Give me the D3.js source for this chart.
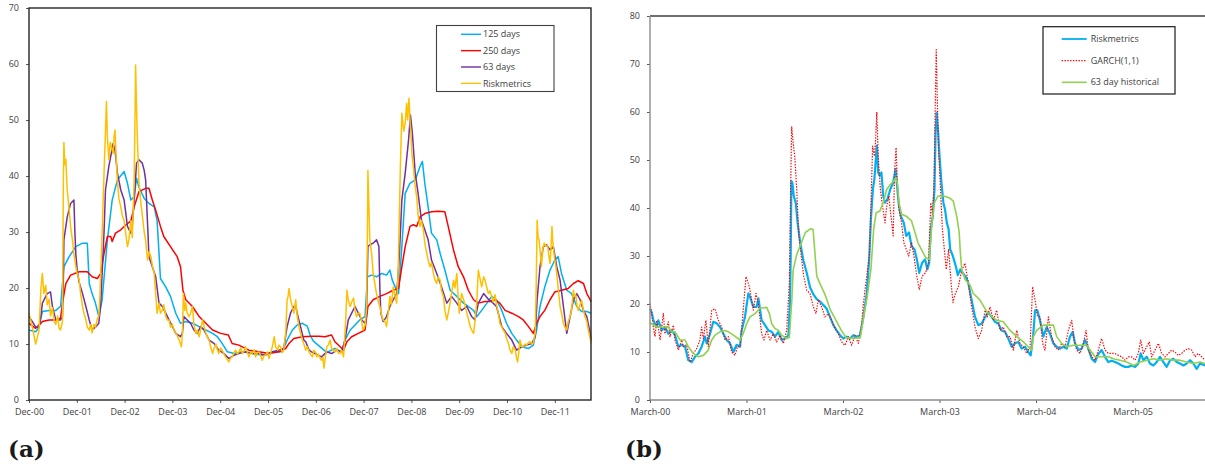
<!DOCTYPE html>
<html>
<head>
<meta charset="utf-8">
<script src="https://cdnjs.cloudflare.com/ajax/libs/d3/7.8.5/d3.min.js"></script>
<style>
body{margin:0;background:#fff;}
svg text{font-family:"Open Sans","Liberation Sans",sans-serif;}
</style>
</head>
<body>
<svg id="fig" width="1205" height="471"></svg>
<script>

// Tick labels and legend names

var decLabels = ["Dec-00","Dec-01","Dec-02","Dec-03","Dec-04","Dec-05","Dec-06","Dec-07","Dec-08","Dec-09","Dec-10","Dec-11"];
var marchLabels = ["March-00","March-01","March-02","March-03","March-04","March-05"];
var yTicksA = [0,10,20,30,40,50,60,70];
var yTicksB = [0,10,20,30,40,50,60,70,80];
var namesA = ["125 days","250 days","63 days","Riskmetrics"];
var namesB = ["Riskmetrics","GARCH(1,1)","63 day historical"];

// Panel (a): [years after Dec-00, volatility]

var vol125 = [[0,12.5],[0.14,12.2],[0.21,13],[0.28,15.8],[0.42,16],[0.56,16],[0.66,16.7],[0.73,23.8],[0.84,25.6],[0.98,27.4],[1.12,28],[1.22,28],[1.26,20.8],[1.32,19],[1.39,17.3],[1.46,14.9],[1.53,17.9],[1.64,28.6],[1.74,35.7],[1.85,39.3],[1.99,40.8],[2.06,38.7],[2.13,35.7],[2.20,36.3],[2.25,39.6],[2.30,38],[2.41,36],[2.51,35.1],[2.62,34.5],[2.68,32],[2.72,26.2],[2.75,21.7],[2.86,20.2],[2.96,18.5],[3.07,15.5],[3.17,13.7],[3.28,14],[3.42,13.7],[3.56,13.1],[3.70,12.5],[3.84,11.9],[3.94,11.3],[4.04,10.1],[4.15,8.6],[4.29,8.3],[4.46,8.6],[4.67,8.3],[4.88,8],[5.09,8.6],[5.30,8.6],[5.40,10.7],[5.51,12.5],[5.61,13.4],[5.72,13.7],[5.82,13.2],[5.88,11.6],[5.95,10.5],[6.09,9.5],[6.23,8.5],[6.40,9.2],[6.54,8.6],[6.61,10.7],[6.72,12.5],[6.82,13.4],[6.92,14.3],[7.03,14.9],[7.08,22],[7.17,22.3],[7.27,22],[7.38,22.6],[7.48,22.3],[7.55,23.2],[7.60,21.4],[7.66,20.2],[7.73,19],[7.80,27.4],[7.87,36.9],[7.97,38.7],[8.08,39.3],[8.18,41.7],[8.23,42.6],[8.28,38.7],[8.35,34.5],[8.42,29.8],[8.53,28.6],[8.60,26.2],[8.70,23.2],[8.81,19.6],[8.95,18.5],[9.09,17.3],[9.19,16.7],[9.30,16],[9.37,14.9],[9.47,16],[9.58,17.3],[9.68,18.5],[9.78,17.9],[9.89,16],[9.99,13.7],[10.10,11.9],[10.20,10.7],[10.31,9.5],[10.45,9.2],[10.55,9.8],[10.62,12.5],[10.69,16.7],[10.79,20.2],[10.90,23.2],[11.00,25],[11.07,25.6],[11.14,22.6],[11.25,19.6],[11.35,19],[11.46,16.7],[11.56,15.8],[11.67,15.8],[11.757,15.5]];

var vol250 = [[0,13.7],[0.14,12.8],[0.28,14],[0.42,14.3],[0.56,14.3],[0.66,14.6],[0.70,17.3],[0.77,20.8],[0.87,22.3],[1.05,22.9],[1.22,22.9],[1.32,22],[1.43,21.7],[1.50,22.6],[1.57,26.2],[1.64,29.2],[1.71,29.2],[1.74,28.3],[1.81,29.8],[1.92,30.4],[2.02,31.2],[2.13,32],[2.20,34.5],[2.30,37.2],[2.44,37.8],[2.51,37.8],[2.58,35.7],[2.65,33.9],[2.75,31],[2.82,29.2],[2.96,27.4],[3.10,25.6],[3.17,23.8],[3.22,19.6],[3.28,17.9],[3.42,16.7],[3.56,14.9],[3.70,13.7],[3.84,12.5],[4.01,11.9],[4.17,11.6],[4.25,10.1],[4.39,9.8],[4.60,8.9],[4.81,8.6],[5.02,8.3],[5.23,8.6],[5.37,9.2],[5.44,10.1],[5.54,11],[5.72,11.3],[5.93,11.4],[6.07,11.4],[6.19,11.3],[6.33,11.6],[6.40,10.4],[6.51,9.5],[6.58,8.9],[6.65,10.4],[6.75,11.3],[6.89,11.9],[7.03,12.5],[7.09,16.7],[7.20,17.9],[7.34,18.5],[7.48,19],[7.62,19.6],[7.73,19.9],[7.80,23.8],[7.87,27.4],[7.97,31],[8.04,31.3],[8.11,31],[8.18,32.7],[8.28,33.3],[8.42,33.6],[8.56,33.7],[8.70,33.6],[8.77,31],[8.88,26.8],[8.98,23.8],[9.09,22],[9.19,19.6],[9.30,17.9],[9.40,17.3],[9.54,17.6],[9.64,17.6],[9.75,17.9],[9.85,17.3],[9.96,16],[10.10,15.5],[10.24,14.9],[10.34,14.3],[10.45,13.1],[10.55,11.9],[10.62,13.7],[10.69,14.9],[10.79,16],[10.90,17.9],[11.00,19.3],[11.14,19.6],[11.28,19.9],[11.39,20.8],[11.49,21.3],[11.60,20.8],[11.67,19],[11.74,17.9],[11.757,17.5]];

var vol63 = [[0,14.9],[0.07,14],[0.14,13],[0.21,13],[0.25,15],[0.28,17.3],[0.35,18.5],[0.38,19],[0.45,19.3],[0.49,16.7],[0.56,14.3],[0.66,14.3],[0.70,14.9],[0.72,22],[0.73,28.6],[0.80,32.7],[0.87,35.1],[0.94,35.7],[0.96,30],[0.98,26],[1.01,23],[1.05,21],[1.12,19],[1.19,16.7],[1.26,14.3],[1.32,12.5],[1.39,13],[1.46,13.7],[1.50,17],[1.53,22.6],[1.57,30],[1.60,37.5],[1.67,41.7],[1.71,43.5],[1.76,45.8],[1.80,44.6],[1.85,40.5],[1.92,37.5],[1.99,35.7],[2.06,31],[2.13,29.8],[2.16,31],[2.20,35.7],[2.25,42.3],[2.30,42.9],[2.37,42.3],[2.41,41],[2.44,39.3],[2.48,31.5],[2.51,25.6],[2.58,23.8],[2.65,22],[2.72,17.3],[2.79,16.7],[2.86,15.5],[2.93,14.3],[3.00,13.1],[3.07,11.9],[3.17,11.3],[3.21,12],[3.24,14.9],[3.31,14.3],[3.38,13.7],[3.45,12.5],[3.52,11.9],[3.59,13.1],[3.66,12.5],[3.77,10.7],[3.87,10.1],[3.97,8.9],[4.08,8.3],[4.18,7.4],[4.29,8],[4.39,8.3],[4.53,8.6],[4.67,8.3],[4.81,8.3],[4.95,8],[5.09,8.6],[5.23,8.9],[5.33,9.2],[5.40,13.1],[5.47,15.5],[5.54,16.7],[5.58,16.8],[5.61,15.5],[5.68,13.1],[5.75,10.7],[5.79,10.4],[5.86,8.9],[5.91,8.6],[5.98,8.3],[6.12,7.7],[6.23,8.6],[6.33,8.3],[6.44,8.9],[6.54,8.6],[6.61,10.7],[6.68,14.3],[6.75,15.5],[6.82,16.7],[6.89,15.5],[6.96,14.3],[7.03,13.7],[7.06,15],[7.09,27.4],[7.13,27.7],[7.20,28],[7.27,28.6],[7.32,27.4],[7.34,20],[7.36,15.5],[7.41,14],[7.48,14.9],[7.55,16.7],[7.62,17.9],[7.69,19],[7.72,22],[7.75,26.2],[7.80,35.7],[7.87,40.5],[7.94,46.4],[7.98,50.9],[8.02,47.6],[8.08,40.5],[8.14,36.9],[8.21,32.1],[8.28,30.4],[8.35,28.6],[8.42,25],[8.53,22.6],[8.63,20.2],[8.74,17.3],[8.84,18.5],[8.95,17.3],[9.05,16],[9.16,16.7],[9.26,14.9],[9.33,14.3],[9.40,17.3],[9.51,19],[9.61,18],[9.71,17.3],[9.78,16.7],[9.89,13.1],[9.99,11.9],[10.10,10.7],[10.20,8.9],[10.31,9.5],[10.41,9.8],[10.52,10.1],[10.59,11.3],[10.63,17.9],[10.69,23.8],[10.76,27.4],[10.83,27.7],[10.90,26.8],[10.97,27.4],[11.04,23.8],[11.11,21.4],[11.18,16.7],[11.25,11.9],[11.32,14.9],[11.39,17.9],[11.46,19],[11.53,17.9],[11.60,16],[11.67,14.9],[11.74,11.9],[11.757,10.7]];

var riskA = [[0,15.5],[0.07,13],[0.14,10],[0.17,11],[0.21,12.5],[0.25,20],[0.28,22.6],[0.31,19],[0.35,20.5],[0.38,17],[0.42,18],[0.45,15],[0.49,16.5],[0.53,14],[0.56,13.5],[0.6,15],[0.63,12.8],[0.66,12.5],[0.70,14],[0.72,40],[0.73,46],[0.75,42],[0.77,43],[0.80,37.5],[0.84,34],[0.87,31],[0.91,28.5],[0.94,26],[0.98,23.8],[1.01,22.5],[1.05,21.4],[1.08,19],[1.12,16.7],[1.15,15.5],[1.19,14.3],[1.22,13],[1.26,12.5],[1.29,13.5],[1.32,12],[1.36,13.5],[1.39,13],[1.43,14.5],[1.46,15],[1.48,18],[1.50,22.6],[1.53,30],[1.57,40.5],[1.60,48],[1.62,53.3],[1.64,47],[1.67,42.9],[1.70,46],[1.73,45],[1.76,44],[1.78,47],[1.80,48.2],[1.82,44],[1.85,39],[1.88,36],[1.92,34.5],[1.95,33],[1.99,32],[2.02,30],[2.06,27.4],[2.09,28.6],[2.13,32],[2.16,29],[2.20,39],[2.22,52],[2.23,59.8],[2.25,52],[2.27,46],[2.30,39],[2.33,36],[2.37,33],[2.41,30],[2.44,28.5],[2.48,25],[2.51,26.5],[2.55,25.6],[2.58,24],[2.62,22.6],[2.65,19],[2.68,15.5],[2.72,17.3],[2.75,15.5],[2.79,16],[2.82,17],[2.86,15],[2.89,14.3],[2.93,14.3],[2.96,13],[3.00,13.5],[3.03,12.5],[3.07,12],[3.10,11.5],[3.14,10.7],[3.17,10],[3.19,9.5],[3.21,12],[3.23,19],[3.26,16],[3.28,17.3],[3.31,15.5],[3.35,14.9],[3.38,15.5],[3.42,16.7],[3.45,13.5],[3.49,11.9],[3.52,12.5],[3.56,11.3],[3.59,12.5],[3.63,14.3],[3.66,13.2],[3.70,12],[3.73,11.3],[3.77,10.7],[3.80,9.5],[3.84,8.3],[3.87,9.2],[3.91,10],[3.94,9],[3.97,8.3],[4.01,9.3],[4.04,8.9],[4.08,8.2],[4.11,7.7],[4.15,7.2],[4.18,6.8],[4.22,7.5],[4.25,7.7],[4.29,8.5],[4.32,8.9],[4.36,8.2],[4.39,8.6],[4.43,9.3],[4.46,8.3],[4.50,8.8],[4.53,9.5],[4.57,8.5],[4.60,7.7],[4.64,8.6],[4.67,8.3],[4.71,9],[4.74,7.7],[4.78,8.5],[4.81,8.6],[4.85,7.8],[4.88,7.1],[4.92,8],[4.95,8],[4.99,8.6],[5.02,7.4],[5.06,8.5],[5.09,9.5],[5.13,11.3],[5.16,9.5],[5.20,8.9],[5.23,9.8],[5.26,9.5],[5.30,8.5],[5.33,8.9],[5.37,12],[5.40,17.9],[5.42,18.5],[5.44,19.9],[5.47,18],[5.51,16.7],[5.54,15.5],[5.58,17.9],[5.61,15],[5.65,13],[5.68,12],[5.72,10.7],[5.75,10],[5.79,8.9],[5.82,9.5],[5.86,8.6],[5.89,8.2],[5.93,7.7],[5.96,8.9],[6.00,8.5],[6.02,7.7],[6.05,8.2],[6.09,7.5],[6.12,7.1],[6.15,7.6],[6.17,5.7],[6.19,7],[6.23,9.5],[6.26,9.8],[6.30,10.7],[6.33,9.2],[6.37,8.9],[6.40,8.6],[6.44,9.2],[6.47,8.4],[6.51,8.3],[6.54,8.9],[6.58,7.7],[6.61,11.9],[6.63,15],[6.65,19.6],[6.68,17.8],[6.72,16.7],[6.75,17.5],[6.79,18.2],[6.82,16],[6.85,14.9],[6.89,15.5],[6.92,15.5],[6.96,14],[6.99,12.5],[7.03,13.3],[7.06,16],[7.08,30],[7.09,41],[7.11,35],[7.13,28.6],[7.17,26],[7.20,22.6],[7.24,20.5],[7.27,19],[7.31,17.5],[7.34,16.7],[7.38,15],[7.41,14.3],[7.45,14],[7.48,13.1],[7.52,16],[7.55,18.5],[7.58,17],[7.62,20.2],[7.66,18.5],[7.69,17.3],[7.72,22],[7.74,29.8],[7.77,42],[7.80,51.2],[7.84,48],[7.87,49.4],[7.90,53],[7.92,50],[7.95,53.9],[7.97,50],[7.99,47.6],[8.01,44],[8.04,41.7],[8.08,38],[8.11,36.3],[8.14,33],[8.18,31],[8.21,32],[8.25,30.4],[8.28,28],[8.32,26.2],[8.35,25],[8.39,23.8],[8.42,24.5],[8.46,22.6],[8.49,21.5],[8.53,20.8],[8.56,22],[8.60,21.4],[8.63,19.5],[8.67,18.5],[8.70,16],[8.74,14.3],[8.77,15.5],[8.81,17.3],[8.84,19],[8.88,21.4],[8.91,20],[8.95,22.6],[8.98,18],[9.00,15.5],[9.05,19],[9.09,18],[9.11,17.3],[9.16,15.5],[9.19,14.5],[9.23,13.1],[9.26,12.5],[9.30,11.9],[9.33,14],[9.37,17.9],[9.40,23.2],[9.44,21.5],[9.47,20.2],[9.51,22],[9.54,21.4],[9.58,20],[9.61,19],[9.64,19.5],[9.68,18.5],[9.71,17.5],[9.75,18.8],[9.78,17],[9.82,15.5],[9.85,13.7],[9.89,13],[9.92,12.5],[9.96,12],[9.99,11],[10.03,10.1],[10.06,9],[10.10,8.3],[10.13,9.5],[10.17,9],[10.20,7.5],[10.22,6.8],[10.24,8],[10.27,10.7],[10.31,9.5],[10.34,9.5],[10.38,10],[10.41,9.8],[10.45,10.3],[10.48,10.4],[10.52,10],[10.55,10.2],[10.59,11.9],[10.61,20],[10.63,32.1],[10.65,29],[10.67,28.6],[10.70,26],[10.72,23.8],[10.75,27],[10.78,28],[10.81,27.5],[10.85,27.5],[10.88,25.5],[10.90,24.4],[10.92,27],[10.94,31],[10.96,28],[10.99,25.6],[11.02,24],[11.04,22.6],[11.07,20],[11.11,16.7],[11.14,15.5],[11.18,13.7],[11.21,13],[11.25,12.5],[11.28,14],[11.32,14.9],[11.35,16],[11.39,19.6],[11.41,18.5],[11.44,18.8],[11.46,17],[11.49,16],[11.53,17],[11.56,17.8],[11.60,16],[11.63,14.9],[11.67,14],[11.70,12.5],[11.74,11],[11.757,10.1]];

// Panel (b): [years after March-00, volatility]

var riskB = [[0,19],[0.017,18.3],[0.035,16.6],[0.069,15.2],[0.086,16.6],[0.121,14.5],[0.155,15.2],[0.19,13.8],[0.225,14.5],[0.259,13.5],[0.294,11.1],[0.328,11.5],[0.363,11.1],[0.397,8.3],[0.432,7.9],[0.466,9],[0.501,9.7],[0.535,11.1],[0.57,13.2],[0.587,11.8],[0.622,13.8],[0.656,16.3],[0.691,16],[0.725,15.2],[0.76,13.8],[0.794,12.5],[0.829,11.8],[0.864,10],[0.898,11.5],[0.933,11.1],[0.95,14.5],[0.984,17.3],[1.019,22.2],[1.036,21.5],[1.071,19.4],[1.105,19.4],[1.123,21.2],[1.157,16.6],[1.192,15.6],[1.226,14.5],[1.261,14.2],[1.295,13.2],[1.33,14.2],[1.364,12.5],[1.399,12.8],[1.434,13.5],[1.451,20.8],[1.458,30],[1.465,45.6],[1.475,45.3],[1.49,42.5],[1.51,41.1],[1.53,36.9],[1.556,32.8],[1.59,29],[1.624,26.5],[1.658,23.5],[1.693,22],[1.727,21],[1.762,20.5],[1.796,19.8],[1.831,19],[1.865,17.3],[1.9,15.6],[1.934,14.5],[1.969,13.5],[2.003,12.8],[2.038,13.2],[2.073,12.8],[2.107,13.5],[2.142,13.2],[2.176,13.5],[2.211,17.3],[2.245,22],[2.27,29],[2.29,38],[2.31,44],[2.325,46],[2.35,53],[2.365,47.4],[2.38,46.7],[2.398,47.4],[2.417,42.5],[2.435,41.1],[2.46,41.8],[2.49,43.9],[2.52,45.3],[2.545,48.1],[2.563,43.9],[2.58,40.4],[2.6,38.3],[2.63,36.9],[2.655,34.2],[2.684,34.9],[2.71,32.1],[2.74,31.4],[2.765,29.3],[2.79,26.5],[2.82,28.6],[2.85,29.3],[2.874,27.2],[2.893,28.6],[2.91,35.6],[2.93,38.3],[2.948,43.9],[2.959,55.7],[2.97,59.9],[2.984,56.4],[3.0,50.8],[3.02,45.3],[3.04,41.1],[3.057,39.7],[3.076,36.9],[3.094,35.6],[3.11,31.4],[3.138,30],[3.167,28],[3.19,26],[3.215,27.2],[3.24,26.5],[3.277,25.5],[3.299,24.3],[3.333,20.8],[3.368,17.3],[3.402,15.6],[3.437,15.9],[3.472,17.3],[3.506,18.2],[3.541,17.3],[3.575,16.3],[3.61,15.9],[3.644,14.5],[3.679,14.2],[3.713,12.8],[3.748,11.1],[3.782,11.8],[3.817,12.1],[3.851,10.7],[3.886,11.1],[3.92,10],[3.945,9.3],[3.972,13.8],[3.99,18.7],[4.014,18.7],[4.041,16.6],[4.076,13.2],[4.111,15.2],[4.145,13.8],[4.18,11.8],[4.214,11.1],[4.249,10.7],[4.283,11.1],[4.318,10.7],[4.352,13.2],[4.38,14.2],[4.404,11.8],[4.439,10.4],[4.473,10.7],[4.508,12.5],[4.542,10.7],[4.577,8.6],[4.611,7.9],[4.646,9.6],[4.68,10.4],[4.715,9],[4.75,7.9],[4.784,8.2],[4.819,7.9],[4.853,7.6],[4.888,7.2],[4.922,6.9],[4.957,6.9],[4.991,7.2],[5.026,6.9],[5.06,7.6],[5.085,9.7],[5.112,8.3],[5.147,9],[5.181,7.6],[5.216,7.2],[5.25,7.9],[5.285,9],[5.32,7.9],[5.354,6.9],[5.389,8.3],[5.423,8.6],[5.458,7.9],[5.492,7.6],[5.527,7.2],[5.561,7.6],[5.596,8.3],[5.63,7.6],[5.665,6.5],[5.699,7.6],[5.751,7.2]];

var garchB = [[0,20.1],[0.017,18],[0.035,15.2],[0.052,13.2],[0.069,16.6],[0.086,15.2],[0.104,12.5],[0.138,18],[0.155,13.8],[0.19,16.3],[0.207,13.2],[0.242,15.6],[0.259,12.5],[0.294,10.4],[0.328,12.5],[0.345,11.1],[0.38,11.5],[0.415,7.9],[0.449,9.7],[0.484,10.7],[0.518,12.5],[0.535,15.2],[0.553,12.8],[0.58,16.6],[0.604,11.1],[0.639,18.7],[0.674,19],[0.708,16.6],[0.743,15.2],[0.777,12.5],[0.812,13.2],[0.846,10],[0.881,9.3],[0.905,11.1],[0.933,11.1],[0.96,17.3],[0.995,25.7],[1.019,24.3],[1.036,22.9],[1.071,18.7],[1.098,22.2],[1.123,20.1],[1.157,13.8],[1.181,12.5],[1.209,14.5],[1.244,12.5],[1.278,13.8],[1.313,12.1],[1.347,13.5],[1.382,11.8],[1.416,14.5],[1.444,24.3],[1.458,45],[1.468,57],[1.483,53.6],[1.5,50.8],[1.52,43.9],[1.54,34.9],[1.567,30],[1.593,25.8],[1.624,22.9],[1.658,22.2],[1.693,19.4],[1.72,18],[1.744,20.9],[1.779,19.4],[1.813,17.3],[1.848,18],[1.883,16.6],[1.917,14.9],[1.952,13.8],[1.986,12.1],[2.021,11.4],[2.055,13.2],[2.09,11.4],[2.124,13.5],[2.159,11.8],[2.193,15.6],[2.211,20.1],[2.228,22.9],[2.245,25.7],[2.273,30],[2.29,41],[2.307,52.9],[2.325,50.8],[2.336,53.6],[2.35,60],[2.365,50.8],[2.387,43.9],[2.41,40.4],[2.435,36.9],[2.453,40.4],[2.475,42.5],[2.497,38.3],[2.52,34.2],[2.534,47.4],[2.55,52.6],[2.563,45.3],[2.58,39.7],[2.607,36.9],[2.63,32.8],[2.655,31.4],[2.68,30],[2.71,32.8],[2.735,30],[2.765,25.8],[2.79,23],[2.82,25.8],[2.856,26.5],[2.885,28.6],[2.91,41.1],[2.93,38.3],[2.944,46.7],[2.955,60.6],[2.966,73],[2.977,62.6],[2.99,52.2],[3.01,43.9],[3.03,35.6],[3.05,31.4],[3.07,27.2],[3.094,31.4],[3.12,24.4],[3.14,20.3],[3.161,22],[3.195,23.6],[3.23,27],[3.264,28.5],[3.299,24.3],[3.333,19.4],[3.368,15.2],[3.402,12.8],[3.437,14.5],[3.472,18.7],[3.496,17.3],[3.523,19.4],[3.558,16.6],[3.592,18.7],[3.627,14.5],[3.661,15.2],[3.696,13.2],[3.731,13.2],[3.765,10.4],[3.8,14.5],[3.834,11.8],[3.869,11.1],[3.903,9.7],[3.938,11.1],[3.965,23.6],[3.99,20.8],[4.014,17.5],[4.041,17.3],[4.069,11.8],[4.093,10.4],[4.128,17.3],[4.162,13.2],[4.197,11.1],[4.231,10.4],[4.266,11.8],[4.301,11.1],[4.335,14.5],[4.37,16.6],[4.394,12.5],[4.421,10.4],[4.456,9.7],[4.491,11.8],[4.518,14.5],[4.542,10.4],[4.577,9],[4.611,8.3],[4.646,10.4],[4.68,12.8],[4.715,10.4],[4.75,9.7],[4.784,9.7],[4.819,9.7],[4.853,9.3],[4.888,9],[4.922,8.3],[4.957,9],[4.991,9],[5.026,8.3],[5.06,9.7],[5.085,12.5],[5.112,9.7],[5.147,11.1],[5.174,12.1],[5.199,9],[5.233,10.4],[5.268,11.8],[5.302,9.7],[5.337,9],[5.371,9.7],[5.406,10.4],[5.44,10],[5.475,9.3],[5.509,9.7],[5.544,10.4],[5.579,10.7],[5.613,10.4],[5.648,9],[5.682,9.7],[5.717,9],[5.751,8.3]];

var hist63B = [[0,16.1],[0.069,15.2],[0.138,15.2],[0.19,15.2],[0.225,14.2],[0.259,14.2],[0.311,12.5],[0.363,12.5],[0.397,11.1],[0.449,9.7],[0.501,9],[0.553,9.3],[0.604,10.4],[0.639,12.5],[0.674,13.5],[0.725,14.2],[0.777,14.5],[0.812,14.2],[0.864,13.5],[0.933,12.5],[0.967,13.9],[1.002,15.9],[1.036,17.3],[1.088,18],[1.14,19.1],[1.209,19.3],[1.237,18],[1.261,15.9],[1.295,14.9],[1.33,14.5],[1.364,13.5],[1.416,12.8],[1.444,13],[1.458,17.3],[1.47,21],[1.483,27],[1.52,30.3],[1.556,32.1],[1.61,34.9],[1.666,35.7],[1.69,35.5],[1.706,31.4],[1.728,25.8],[1.758,24.4],[1.813,22],[1.867,18.9],[1.922,16.8],[1.977,14.7],[2.032,13],[2.105,12.8],[2.179,13],[2.215,17.5],[2.252,21.7],[2.289,27.2],[2.318,35.6],[2.343,39],[2.38,39.3],[2.417,41.1],[2.453,43.9],[2.49,44.9],[2.527,45.6],[2.545,46.3],[2.563,45.3],[2.58,41.1],[2.607,38.7],[2.655,38.3],[2.71,37.3],[2.746,34.9],[2.776,32.8],[2.812,31.4],[2.856,29.7],[2.893,29.3],[2.922,36.9],[2.948,41.1],[2.984,42.5],[3.04,42.5],[3.094,42.2],[3.142,41.5],[3.178,38.3],[3.204,34.9],[3.215,31],[3.23,27.2],[3.264,25.1],[3.314,24],[3.351,22.2],[3.42,20.8],[3.472,19],[3.506,18],[3.592,16.6],[3.661,16.3],[3.731,14.5],[3.8,13.2],[3.869,12.1],[3.92,11.1],[3.955,10.4],[3.972,13.2],[4.007,14.5],[4.076,15.6],[4.18,15.6],[4.214,13.2],[4.266,11.8],[4.318,11.1],[4.387,11.4],[4.456,11.4],[4.525,11.4],[4.56,10.4],[4.611,9],[4.68,9],[4.75,9],[4.8,8.6],[4.87,8.3],[4.94,7.9],[5.01,7.2],[5.08,7.9],[5.15,8.3],[5.22,8.6],[5.28,8.3],[5.35,8.6],[5.42,8.3],[5.49,8.3],[5.56,7.9],[5.63,7.6],[5.7,7.9],[5.751,7.6]];


// Drawing

var svg = d3.select("#fig");
var labelCol = "#404040";

function styleAxis(g){
	g.select(".domain").remove();
	g.selectAll(".tick line").style("stroke","#595959");
	g.selectAll(".tick text").style("fill",labelCol).style("font-size","9px");
}

// panel (a)

var xA = d3.scaleLinear().domain([0,11.757]).range([29,591]);
var yA = d3.scaleLinear().domain([0,70]).range([400,8]);

var lineA = d3.line().x(function(d){return xA(d[0])}).y(function(d){return yA(d[1])});

svg.append("g").attr("transform","translate(0,400)")
	.call(d3.axisBottom(xA).tickValues(d3.range(decLabels.length)).tickFormat(function(i){return decLabels[i]})
		.tickSize(3).tickSizeOuter(0).tickPadding(6))
	.call(styleAxis);

svg.append("g").attr("transform","translate(29,0)")
	.call(d3.axisLeft(yA).tickValues(yTicksA).tickSize(3).tickSizeOuter(0).tickPadding(7))
	.call(styleAxis);

var seriesA = [
	{name:namesA[0], data:vol125, color:"#00B0F0"},
	{name:namesA[1], data:vol250, color:"#FF0000"},
	{name:namesA[2], data:vol63,  color:"#7030A0"},
	{name:namesA[3], data:riskA,  color:"#FFC000"}
];

svg.append("g").selectAll("path").data(seriesA).enter().append("path")
	.attr("d",function(d){return lineA(d.data)})
	.style("fill","none").style("stroke",function(d){return d.color})
	.style("stroke-width",1.5).style("stroke-linejoin","round");

svg.append("rect").attr("x",29).attr("y",8).attr("width",562).attr("height",392)
	.style("fill","none").style("stroke","#262626").style("stroke-width",1.4);

var legA = svg.append("g");
legA.append("rect").attr("x",436.5).attr("y",25.5).attr("width",117.5).attr("height",66)
	.style("fill","white").style("stroke","#404040").style("stroke-width",1.1);
var rowA = legA.selectAll(".row").data(seriesA).enter().append("g").attr("class","row")
	.attr("transform",function(d,i){return "translate(0,"+(34.3+i*16.35)+")"});
rowA.append("line").attr("x1",461).attr("x2",481)
	.style("stroke",function(d){return d.color}).style("stroke-width",1.4);
rowA.append("text").attr("x",483).attr("dy","0.35em").text(function(d){return d.name})
	.style("font-size","9px").style("fill",labelCol);

// panel (b)

var xB = d3.scaleLinear().domain([0,5.751]).range([650,1205]);
var yB = d3.scaleLinear().domain([0,80]).range([400,16]);

var lineB = d3.line().x(function(d){return xB(d[0])}).y(function(d){return yB(d[1])});

svg.append("g").attr("transform","translate(0,400)")
	.call(d3.axisBottom(xB).tickValues(d3.range(marchLabels.length)).tickFormat(function(i){return marchLabels[i]})
		.tickSize(3).tickSizeOuter(0).tickPadding(6))
	.call(styleAxis);

svg.append("g").attr("transform","translate(650,0)")
	.call(d3.axisLeft(yB).tickValues(yTicksB).tickSize(3).tickSizeOuter(0).tickPadding(7))
	.call(styleAxis);

var seriesB = [
	{name:namesB[0], data:riskB,   color:"#00B0F0", w:2.2, dash:null},
	{name:namesB[1], data:garchB,  color:"#FF0000", w:1.2, dash:"1.4,1.4"},
	{name:namesB[2], data:hist63B, color:"#92D050", w:1.6, dash:null}
];

svg.append("g").selectAll("path").data(seriesB).enter().append("path")
	.attr("d",function(d){return lineB(d.data)})
	.style("fill","none").style("stroke",function(d){return d.color})
	.style("stroke-width",function(d){return d.w})
	.style("stroke-dasharray",function(d){return d.dash})
	.style("stroke-linejoin","round");

svg.append("line").attr("x1",650).attr("x2",1205).attr("y1",16).attr("y2",16)
	.style("stroke","#404040").style("stroke-width",1.3);
svg.append("line").attr("x1",650).attr("x2",1205).attr("y1",400).attr("y2",400)
	.style("stroke","#8c8c8c").style("stroke-width",1.4);
svg.append("line").attr("x1",650).attr("x2",650).attr("y1",16).attr("y2",400)
	.style("stroke","#8c8c8c").style("stroke-width",1.4);

var legB = svg.append("g");
legB.append("rect").attr("x",1043).attr("y",26.7).attr("width",132).attr("height",67.3)
	.style("fill","white").style("stroke","#1a1a1a").style("stroke-width",1.2);
var rowB = legB.selectAll(".row").data(seriesB).enter().append("g").attr("class","row")
	.attr("transform",function(d,i){return "translate(0,"+(39+i*21.65)+")"});
rowB.append("line").attr("x1",1061.7).attr("x2",1086.7)
	.style("stroke",function(d){return d.color}).style("stroke-width",function(d){return Math.min(d.w,1.8)})
	.style("stroke-dasharray",function(d){return d.dash});
rowB.append("text").attr("x",1090.7).attr("dy","0.35em").text(function(d){return d.name})
	.style("font-size","9px").style("fill",labelCol);

// sub-figure labels

svg.append("text").attr("x",8).attr("y",457).text("(a)")
	.style("font-family","'DejaVu Serif',serif").style("font-weight","bold").style("font-size","23px").style("fill","#1a1a1a");
svg.append("text").attr("x",625).attr("y",457).text("(b)")
	.style("font-family","'DejaVu Serif',serif").style("font-weight","bold").style("font-size","23px").style("fill","#1a1a1a");

</script>
</body>
</html>
